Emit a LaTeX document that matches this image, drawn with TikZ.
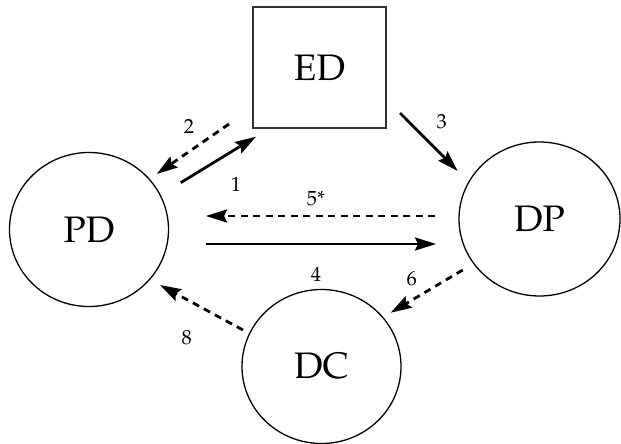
\documentclass[tikz,border=0pt]{standalone}
\usepackage[T1]{fontenc}
\usepackage{mathpazo}
\usetikzlibrary{arrows.meta,shapes.geometric}
\begin{document}
\begin{tikzpicture}[x=1bp,y=-1bp,
  blob/.style={draw,ellipse,line width=1.3bp,inner sep=0pt,minimum width=159bp,minimum height=154bp,font=\fontsize{37}{40}\selectfont},
  boxnode/.style={draw=black!80,rectangle,line width=1.6bp,inner sep=0pt,minimum width=133bp,minimum height=121bp,font=\fontsize{37}{40}\selectfont},
  solidarr/.style={line width=2.8bp,-{Stealth[length=21bp,width=13bp,inset=3bp]}},
  dasharr/.style={line width=2.8bp,dash pattern=on 7bp off 5.5bp,-{Stealth[length=21bp,width=13bp,inset=3bp]}},
  lab/.style={font=\fontsize{20.5}{22}\selectfont,inner sep=0pt}]
\useasboundingbox (0,0) rectangle (621,444);
\node[blob] (PD) at (89,229.5) {PD};
\node[blob,minimum width=161bp] (DP) at (539.5,219) {DP};
\node[blob] (DC) at (321.5,366.5) {DC};
\node[boxnode] (ED) at (319.5,67.5) {ED};
% arrow endpoints
\coordinate (a1s) at (180.7,182.7); \coordinate (a1e) at (256,136.7);
\coordinate (a2s) at (229,124); \coordinate (a2e) at (156.7,174);
\coordinate (a3s) at (400,113); \coordinate (a3e) at (457.7,171);
\coordinate (a5s) at (435,216); \coordinate (a5e) at (206,216);
\coordinate (a4s) at (206,244); \coordinate (a4e) at (436,244);
\coordinate (a6s) at (462.7,270); \coordinate (a6e) at (390.7,312.7);
\coordinate (a8s) at (243,330); \coordinate (a8e) at (160,285);
\draw[solidarr] (a1s) -- (a1e);
\draw[dasharr] (a2s) -- (a2e);
\draw[solidarr] (a3s) -- (a3e);
\draw[dasharr] (a5s) -- (a5e);
\draw[solidarr] (a4s) -- (a4e);
\draw[dasharr] (a6s) -- (a6e);
\draw[dasharr] (a8s) -- (a8e);
\node[lab] (l1) at (236,184) {1};
\node[lab] (l2) at (189,126) {2};
\node[lab] (l3) at (441.7,122) {3};
\node[lab] (l5) at (316,199) {5*};
\node[lab] (l4) at (316,274) {4};
\node[lab] (l6) at (411.7,279) {6};
\node[lab] (l8) at (186.7,338) {8};
\end{tikzpicture}
\end{document}
